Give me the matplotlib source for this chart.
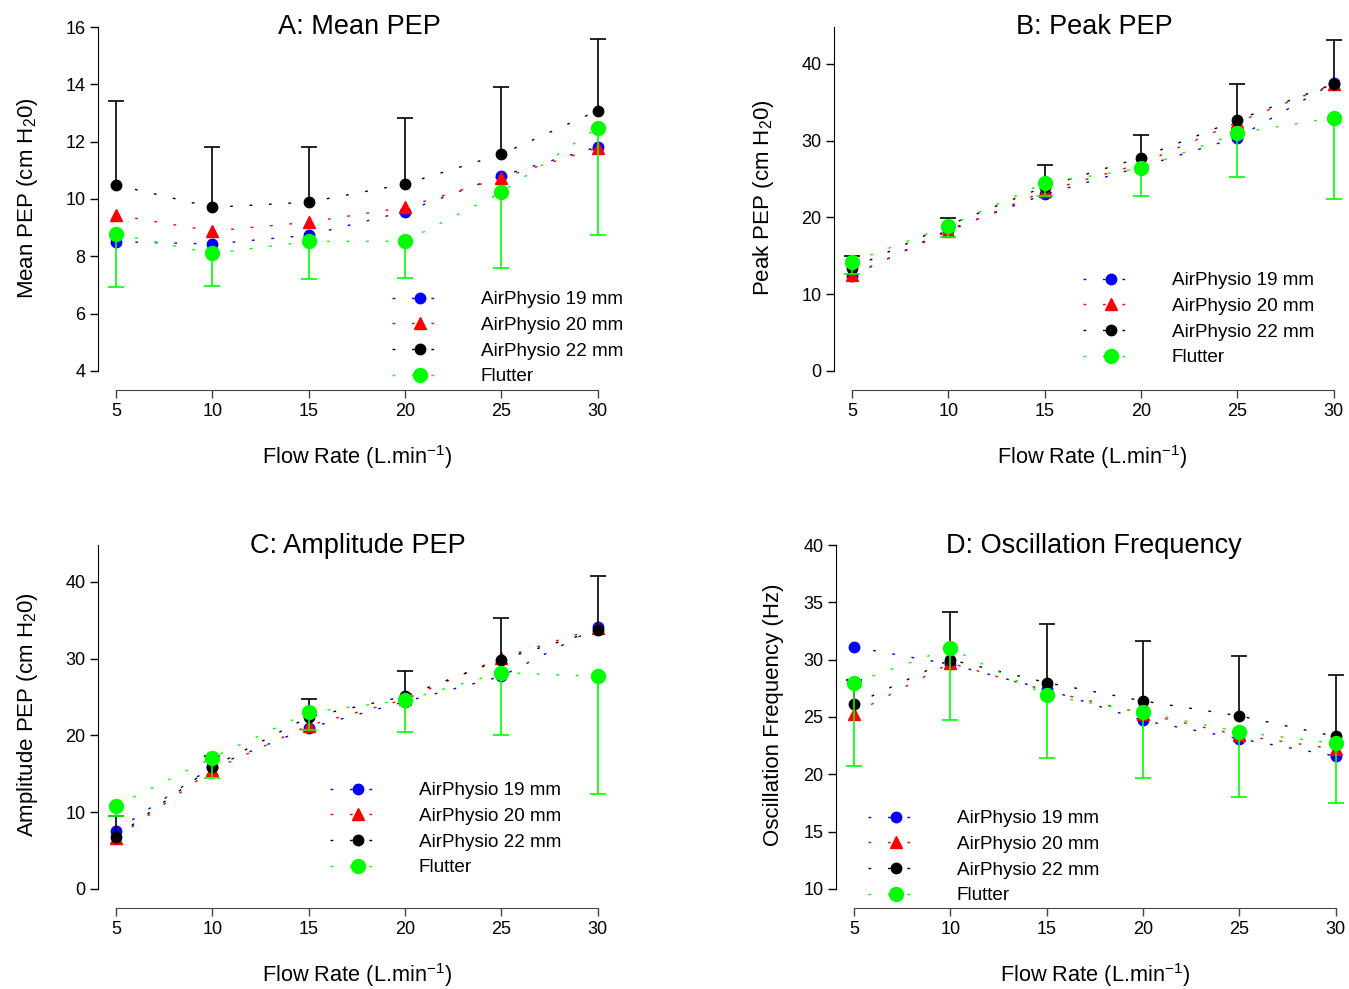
import numpy as np
import matplotlib.pyplot as plt

plt.rcParams['font.family'] = ['Liberation Sans', 'DejaVu Sans']
plt.rcParams['mathtext.fontset'] = 'custom'
plt.rcParams['mathtext.rm'] = 'Liberation Sans'
plt.rcParams['mathtext.it'] = 'Liberation Sans:italic'

W, H = 1349, 989

flow = [5, 10, 15, 20, 25, 30]
labels = ['AirPhysio 19 mm', 'AirPhysio 20 mm', 'AirPhysio 22 mm', 'Flutter']

# A: mean PEP
mean_19 = [8.51, 8.43, 8.74, 9.56, 10.81, 11.82]
mean_20 = [9.44, 8.88, 9.19, 9.71, 10.74, 11.78]
mean_22 = [10.49, 9.71, 9.89, 10.52, 11.56, 13.08]
mean_fl = [8.78, 8.10, 8.52, 8.52, 10.23, 12.48]
mean_22_hi = [13.43, 11.82, 11.80, 12.84, 13.92, 15.58]
mean_fl_lo = [6.92, 6.98, 7.21, 7.23, 7.60, 8.75]

# B: peak PEP
peak_19 = [12.4, 18.4, 23.0, 26.6, 30.4, 37.5]
peak_20 = [12.5, 18.2, 23.4, 27.0, 32.4, 37.4]
peak_22 = [13.4, 19.0, 24.0, 27.8, 32.7, 37.4]
peak_fl = [14.2, 18.9, 24.5, 26.4, 31.0, 33.0]
peak_22_hi = [15.0, 19.9, 26.8, 30.7, 37.4, 43.1]
peak_fl_lo = [12.7, 17.5, 22.8, 22.8, 25.3, 22.4]

# C: amplitude PEP
amp_19 = [7.6, 15.9, 21.0, 24.4, 27.7, 34.1]
amp_20 = [6.6, 15.5, 21.3, 24.7, 30.1, 34.0]
amp_22 = [6.8, 15.9, 22.4, 25.1, 29.9, 33.7]
amp_fl = [10.8, 17.1, 23.0, 24.6, 28.2, 27.7]
amp_22_hi = [9.5, 17.3, 24.8, 28.4, 35.3, 40.8]
amp_fl_lo = [9.5, 14.4, 20.7, 20.4, 20.1, 12.4]

# D: oscillation frequency
freq_19 = [31.1, 29.6, 27.4, 24.7, 23.1, 21.6]
freq_20 = [25.3, 29.7, 27.3, 25.3, 23.4, 22.2]
freq_22 = [26.1, 30.0, 28.0, 26.4, 25.1, 23.3]
freq_fl = [28.0, 31.0, 26.9, 25.4, 23.7, 22.7]
freq_22_hi = [28.2, 34.2, 33.1, 31.6, 30.3, 28.7]
freq_fl_lo = [20.7, 24.7, 21.4, 19.7, 18.0, 17.5]

colors = ['#0000ff', '#ff0000', '#000000', '#00ff00']
markers = ['o', '^', 'o', 'o']
msizes = [7.5, 8.5, 7.5, 10]
dots = (0, (2, 12))


def fxy(x, y):
    return x / W, 1 - y / H


fig = plt.figure(figsize=(W / 100, H / 100), dpi=100)


def panel(box, xlim, ylim, ybounds, yticks, series, hi22, lofl,
          title, title_at, ylabel, ylabel_at, xlabel_at, leg_at):
    l, t, r, b = box
    ax = fig.add_axes([l / W, 1 - b / H, (r - l) / W, (b - t) / H])
    for i, vals in enumerate(series):
        ax.plot(flow, vals, ls=dots, lw=1, color=colors[i], marker=markers[i],
                ms=msizes[i], label=labels[i], zorder=2 + i, clip_on=False)
    ax.vlines(flow, series[2], hi22, color='black', lw=1.2, zorder=4)
    ax.plot(flow, hi22, ls='none', marker='_', ms=11, mew=1.2, color='black', zorder=4)
    ax.vlines(flow, lofl, series[3], color=colors[3], lw=1.2, zorder=5)
    ax.plot(flow, lofl, ls='none', marker='_', ms=11, mew=1.2, color=colors[3], zorder=5)

    ax.set_xlim(*xlim)
    ax.set_ylim(*ylim)
    ax.set_xticks(flow)
    ax.set_yticks(yticks)
    ax.spines['top'].set_visible(False)
    ax.spines['right'].set_visible(False)
    ax.spines['left'].set_bounds(*ybounds)
    ax.spines['bottom'].set_bounds(5, 30)
    ax.spines['bottom'].set_color('#444444')
    ax.tick_params(labelsize=13, length=6, width=1, pad=3)
    ax.tick_params(axis='x', colors='#444444', labelcolor='black')
    ax.patch.set_alpha(0)

    fig.text(*fxy(*title_at), title, fontsize=19.5, ha='center', va='center')
    fig.text(*fxy(*ylabel_at), ylabel, fontsize=16, rotation=90, ha='center', va='center')
    fig.text(*fxy(*xlabel_at), 'Flow Rate (L.min$^{-1}$)', fontsize=15.7, ha='center', va='center')
    ax.legend(loc='upper left', bbox_to_anchor=fxy(*leg_at), bbox_transform=fig.transFigure,
              frameon=False, fontsize=13.6, handlelength=3.0, handletextpad=1.7,
              borderpad=0, borderaxespad=0, labelspacing=0.45, numpoints=1)
    return ax


panel((98, 27, 611, 390), (4.066, 30.7), (3.337, 16), (4, 16), [4, 6, 8, 10, 12, 14, 16],
      [mean_19, mean_20, mean_22, mean_fl], mean_22_hi, mean_fl_lo,
      'A: Mean PEP', (359, 27), 'Mean PEP (cm H$_2$0)', (28, 198), (357, 457), (392, 291))

panel((834, 27, 1347, 390), (4.066, 30.7), (-2.48, 44.82), (0, 44.82), [0, 10, 20, 30, 40],
      [peak_19, peak_20, peak_22, peak_fl], peak_22_hi, peak_fl_lo,
      'B: Peak PEP', (1094, 27), 'Peak PEP (cm H$_2$0)', (763, 198), (1092, 457), (1083, 272))

panel((98, 545, 611, 908), (4.066, 30.7), (-2.48, 44.82), (0, 44.82), [0, 10, 20, 30, 40],
      [amp_19, amp_20, amp_22, amp_fl], amp_22_hi, amp_fl_lo,
      'C: Amplitude PEP', (358, 546), 'Amplitude PEP (cm H$_2$0)', (28, 715), (357, 975), (330, 782))

panel((836, 545, 1349, 908), (4.066, 30.7), (8.343, 40), (10, 40), [10, 15, 20, 25, 30, 35, 40],
      [freq_19, freq_20, freq_22, freq_fl], freq_22_hi, freq_fl_lo,
      'D: Oscillation Frequency', (1094, 546), 'Oscillation Frequency (Hz)', (773, 715), (1095, 975), (868, 810))

fig.savefig('out.png', dpi=100)
